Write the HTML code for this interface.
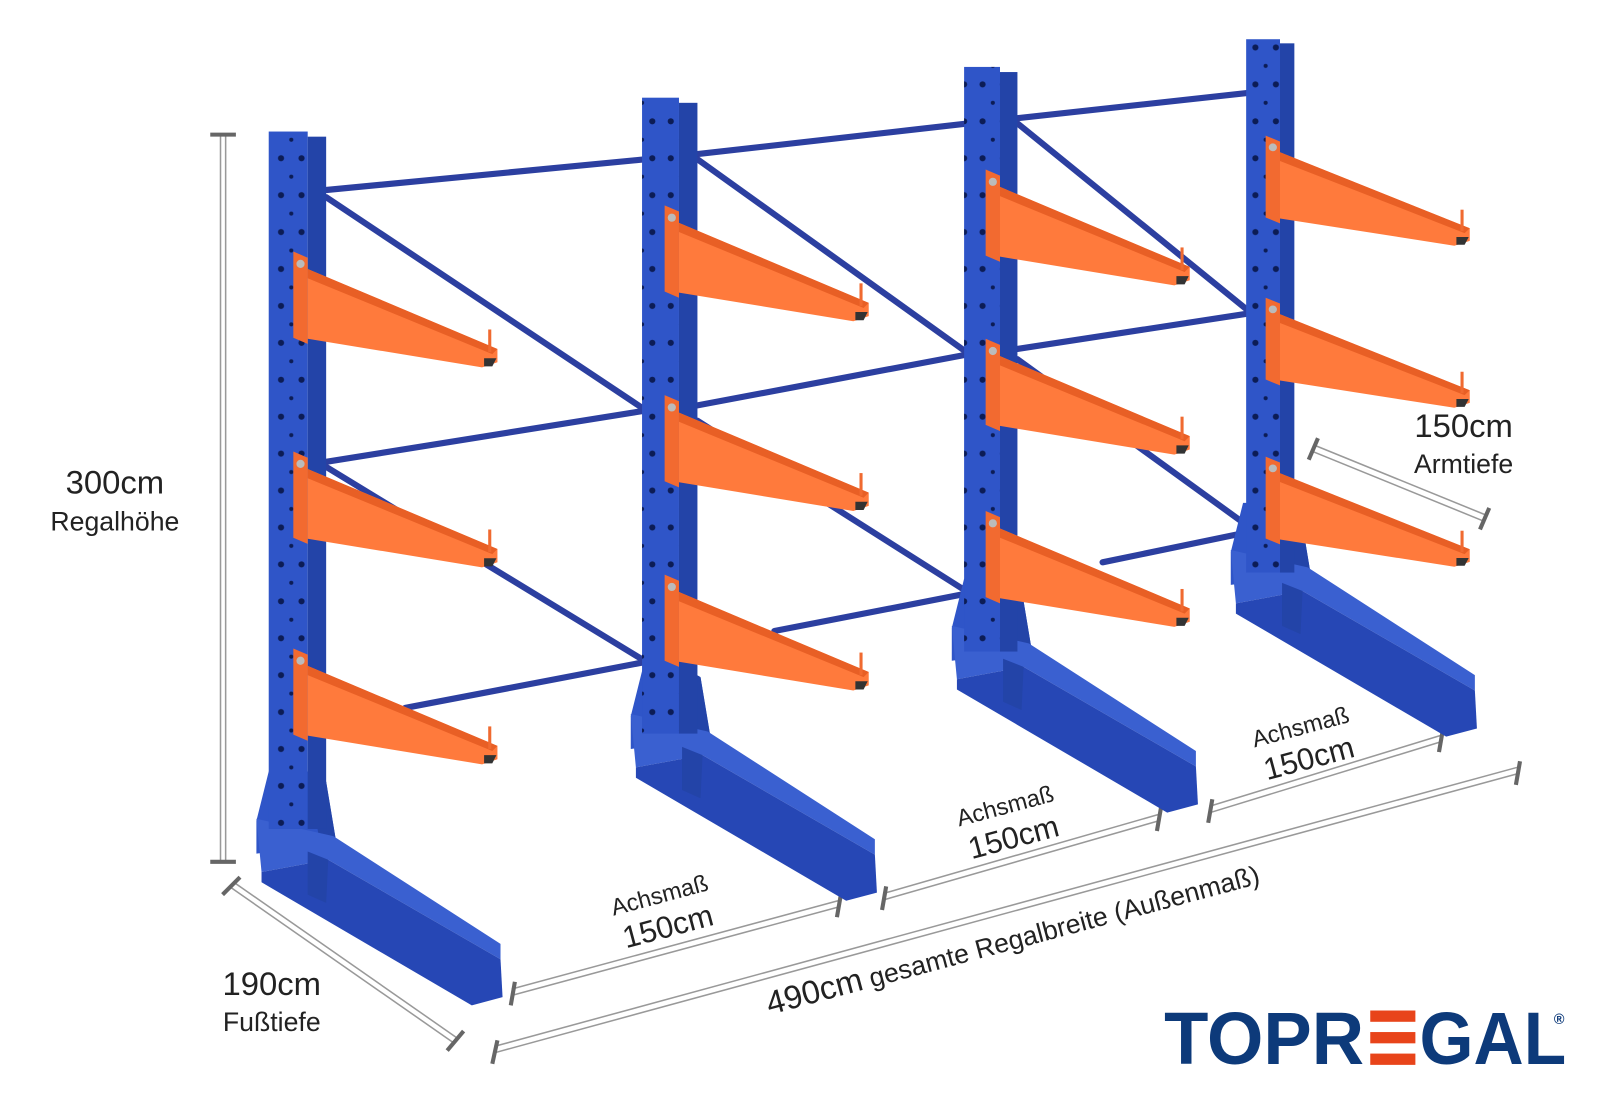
<!DOCTYPE html>
<html><head><meta charset="utf-8"><style>
html,body{margin:0;padding:0;background:#fff;width:1600px;height:1100px;overflow:hidden}
svg{display:block}
text{font-family:"Liberation Sans",sans-serif;fill:#222}
</style></head><body>
<svg width="1600" height="1100" viewBox="0 0 1560 1072" xmlns="http://www.w3.org/2000/svg">
<defs>
<g id="arm">
  <polygon points="-14,0 0,6 0,90 -14,84" fill="#f26a30"/>
  <polygon points="0,17 185,95 185,108 170,113 0,85" fill="#ff7a3c"/>
  <polygon points="0,17 185,95 180,100 0,26" fill="#e85f25"/>
  <polygon points="172,104 184,104 180,112 172,112" fill="#333"/>
  <rect x="176" y="76" width="3" height="22" fill="#f06a30"/>
  <circle cx="-7" cy="12" r="4" fill="#bbb"/>
</g>
<g id="base">
  <polygon points="262,752 300,752 318,762 328,822 250,832 250,800" fill="#2f55c8"/>
  <polygon points="300,752 318,762 328,822 312,822" fill="#2344a8"/>
  <polygon points="250,798 325,815 488,920 488,935 320,838 255,850" fill="#3a60d0"/>
  <polygon points="255,850 320,838 488,935 490,972 460,980 255,860" fill="#2647b5"/>
  <polygon points="300,830 320,838 318,880 300,872" fill="#2344a8"/>
</g>
<pattern id="holes" width="38" height="36" patternUnits="userSpaceOnUse">
  <circle cx="8" cy="10" r="3" fill="#0c1c55"/><circle cx="28" cy="10" r="3" fill="#0c1c55"/>
  <circle cx="18" cy="28" r="2" fill="#0c1c55"/>
</pattern>
</defs>

<g stroke="#999" stroke-width="1.5" fill="none">
  <line x1="215" y1="130" x2="215" y2="840"/><line x1="220" y1="130" x2="220" y2="840"/>
  <line x1="225" y1="865" x2="443" y2="1017"/><line x1="228" y1="860" x2="446" y2="1012"/>
  <line x1="483" y1="1026" x2="1480" y2="754"/><line x1="482" y1="1020" x2="1479" y2="748"/>
  <line x1="500" y1="970" x2="818" y2="884"/><line x1="499" y1="964" x2="817" y2="878"/>
  <line x1="862" y1="877" x2="1130" y2="800"/><line x1="861" y1="871" x2="1129" y2="794"/>
  <line x1="1180" y1="792" x2="1405" y2="723"/><line x1="1179" y1="786" x2="1404" y2="717"/>
  <line x1="1280" y1="440" x2="1447" y2="508"/><line x1="1282" y1="434" x2="1449" y2="502"/>
</g>
<g stroke="#666" stroke-width="4">
  <line x1="205" y1="131" x2="230" y2="131"/><line x1="205" y1="840" x2="230" y2="840"/>
  <line x1="217" y1="872" x2="234" y2="855"/><line x1="436" y1="1024" x2="452" y2="1005"/>
  <line x1="480" y1="1037" x2="485" y2="1014"/><line x1="1478" y1="765" x2="1482" y2="742"/>
  <line x1="498" y1="980" x2="502" y2="957"/><line x1="816" y1="894" x2="820" y2="871"/>
  <line x1="860" y1="887" x2="864" y2="864"/><line x1="1128" y1="810" x2="1132" y2="787"/>
  <line x1="1178" y1="802" x2="1182" y2="779"/><line x1="1403" y1="733" x2="1407" y2="710"/>
  <line x1="1276" y1="448" x2="1285" y2="427"/><line x1="1443" y1="516" x2="1452" y2="495"/>
</g>

<g stroke="#2c3fa0" stroke-width="6" stroke-linecap="round">
  <line x1="318" y1="185" x2="630" y2="155"/><line x1="680" y1="150" x2="945" y2="120"/><line x1="992" y1="115" x2="1220" y2="90"/>
  <line x1="318" y1="450" x2="630" y2="400"/><line x1="680" y1="395" x2="945" y2="345"/><line x1="992" y1="340" x2="1220" y2="305"/>
  <line x1="395" y1="690" x2="630" y2="645"/><line x1="755" y1="615" x2="945" y2="578"/><line x1="1075" y1="548" x2="1220" y2="518"/>
  <line x1="318" y1="192" x2="630" y2="400"/><line x1="680" y1="155" x2="945" y2="345"/><line x1="992" y1="120" x2="1220" y2="305"/>
  <line x1="318" y1="455" x2="630" y2="645"/><line x1="680" y1="410" x2="945" y2="578"/><line x1="992" y1="350" x2="1220" y2="515"/>
</g>

<use href="#base" transform="translate(950,-262)"/>
<rect x="1215" y="38" width="33" height="520" fill="#2f55c8"/><rect x="1215" y="38" width="33" height="520" fill="url(#holes)"/>
<rect x="1248" y="42" width="14" height="516" fill="#2344a8"/>
<use href="#arm" transform="translate(1248,132) scale(1,0.95)"/>
<use href="#arm" transform="translate(1248,290) scale(1,0.95)"/>
<use href="#arm" transform="translate(1248,445) scale(1,0.95)"/>
<use href="#base" transform="translate(678,-188)"/>
<rect x="940" y="65" width="35" height="570" fill="#2f55c8"/><rect x="940" y="65" width="35" height="570" fill="url(#holes)"/>
<rect x="975" y="70" width="17" height="565" fill="#2344a8"/>
<use href="#arm" transform="translate(975,165)"/>
<use href="#arm" transform="translate(975,330)"/>
<use href="#arm" transform="translate(975,498)"/>
<use href="#base" transform="translate(365,-102)"/>
<rect x="626" y="95" width="36" height="620" fill="#2f55c8"/><rect x="626" y="95" width="36" height="620" fill="url(#holes)"/>
<rect x="662" y="100" width="18" height="615" fill="#2344a8"/>
<use href="#arm" transform="translate(662,200)"/>
<use href="#arm" transform="translate(662,385)"/>
<use href="#arm" transform="translate(662,560)"/>
<use href="#base"/>
<rect x="262" y="128" width="38" height="680" fill="#2f55c8"/><rect x="262" y="128" width="38" height="680" fill="url(#holes)"/>
<rect x="300" y="133" width="18" height="675" fill="#2344a8"/>
<use href="#arm" transform="translate(300,245)"/>
<use href="#arm" transform="translate(300,440)"/>
<use href="#arm" transform="translate(300,632)"/>

<text x="112" y="481" font-size="32" text-anchor="middle">300cm</text>
<text x="112" y="517" font-size="26" text-anchor="middle">Regalhöhe</text>
<text x="265" y="970" font-size="32" text-anchor="middle">190cm</text>
<text x="265" y="1005" font-size="26" text-anchor="middle">Fußtiefe</text>
<text x="1427" y="426" font-size="32" text-anchor="middle">150cm</text>
<text x="1427" y="461" font-size="26" text-anchor="middle">Armtiefe</text>
<g transform="translate(645,880) rotate(-15)"><text font-size="23" text-anchor="middle">Achsmaß</text><text y="34" font-size="30" text-anchor="middle">150cm</text></g>
<g transform="translate(982,793) rotate(-15)"><text font-size="23" text-anchor="middle">Achsmaß</text><text y="34" font-size="30" text-anchor="middle">150cm</text></g>
<g transform="translate(1270,716) rotate(-15)"><text font-size="23" text-anchor="middle">Achsmaß</text><text y="34" font-size="30" text-anchor="middle">150cm</text></g>
<g transform="translate(990,925) rotate(-15)"><text font-size="26" text-anchor="middle"><tspan font-size="32">490cm</tspan> gesamte Regalbreite  (Außenmaß)</text></g>

<g font-weight="bold" font-size="72">
  <text x="1135" y="1037" style="fill:#0d3a7a" textLength="195" lengthAdjust="spacingAndGlyphs">TOPR</text>
  <rect x="1336" y="985" width="44" height="11" fill="#e8441a"/>
  <rect x="1336" y="1006" width="44" height="11" fill="#e8441a"/>
  <rect x="1336" y="1027" width="44" height="11" fill="#e8441a"/>
  <text x="1384" y="1037" style="fill:#0d3a7a" textLength="143" lengthAdjust="spacingAndGlyphs">GAL</text>
  <text x="1515" y="998" font-size="14" style="fill:#0d3a7a">®</text>
</g>
</svg>
</body></html>
